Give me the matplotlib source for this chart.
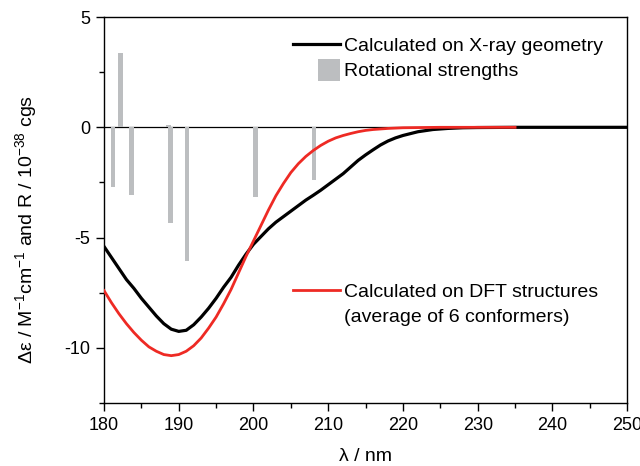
import matplotlib
matplotlib.use("Agg")
import matplotlib.pyplot as plt
from matplotlib.ticker import MultipleLocator
from matplotlib.patches import Rectangle, Patch
from matplotlib.lines import Line2D
from matplotlib.legend_handler import HandlerPatch

plt.rcParams['font.family'] = ['Liberation Sans', 'DejaVu Sans']
plt.rcParams['mathtext.default'] = 'regular'
plt.rcParams['axes.unicode_minus'] = False

# CD spectrum calculated on X-ray geometry (black)
wl_xray = [180, 181, 182, 183, 184, 185, 186, 187, 188, 189, 190, 191, 192, 193, 194,
           195, 196, 197, 198, 199, 200, 201, 202, 203, 204, 205, 206, 207, 208, 209,
           210, 211, 212, 213, 214, 215, 216, 217, 218, 219, 220, 222, 224, 226, 228,
           230, 235, 250]
de_xray = [-5.4, -5.9, -6.4, -6.9, -7.3, -7.75, -8.15, -8.55, -8.9, -9.15, -9.25, -9.2,
           -8.95, -8.6, -8.2, -7.75, -7.25, -6.8, -6.25, -5.75, -5.3, -4.95, -4.6, -4.3,
           -4.05, -3.8, -3.55, -3.3, -3.08, -2.85, -2.6, -2.35, -2.1, -1.8, -1.5, -1.25,
           -1.02, -0.8, -0.62, -0.48, -0.37, -0.2, -0.1, -0.05, -0.02, -0.01, 0.0, 0.0]

# CD spectrum calculated on DFT structures (red)
wl_dft = [180, 181, 182, 183, 184, 185, 186, 187, 188, 189, 190, 191, 192, 193, 194,
          195, 196, 197, 198, 199, 200, 201, 202, 203, 204, 205, 206, 207, 208, 209,
          210, 211, 212, 213, 214, 215, 216, 218, 220, 225, 235]
de_dft = [-7.4, -7.95, -8.45, -8.9, -9.3, -9.65, -9.95, -10.15, -10.3, -10.35, -10.3,
          -10.15, -9.9, -9.55, -9.1, -8.6, -8.0, -7.35, -6.6, -5.85, -5.15, -4.45, -3.75,
          -3.1, -2.55, -2.05, -1.65, -1.32, -1.05, -0.82, -0.63, -0.48, -0.37, -0.28,
          -0.2, -0.14, -0.1, -0.05, -0.02, 0.0, 0.0]

# rotational strengths (sticks)
wl_rot = [181.2, 182.2, 183.7, 188.6, 188.9, 191.1, 200.3, 208.1]
r_rot = [-2.7, 3.35, -3.05, 0.1, -4.35, -6.05, -3.15, -2.4]

bar_color = '#bcbec0'

fig = plt.figure(figsize=(6.4, 4.66), dpi=100)
ax = fig.add_axes([0.1625, 0.135, 0.8175, 0.8285])

ax.axhline(0, color='black', lw=0.9, zorder=1)
ax.bar(wl_rot, r_rot, width=0.6, color=bar_color, zorder=2)
line_x, = ax.plot(wl_xray, de_xray, color='black', lw=2.3, zorder=3,
                  label='Calculated on X-ray geometry')
line_d, = ax.plot(wl_dft, de_dft, color='#ee2a24', lw=2.0, zorder=3,
                  label='Calculated on DFT structures')

ax.set_xlim(180, 250)
ax.set_ylim(-12.5, 5)
ax.xaxis.set_major_locator(MultipleLocator(10))
ax.xaxis.set_minor_locator(MultipleLocator(5))
ax.yaxis.set_major_locator(MultipleLocator(5))
ax.yaxis.set_minor_locator(MultipleLocator(2.5))
ax.tick_params(which='major', direction='out', length=6, width=1, color='black',
               labelsize=13, pad=4)
ax.tick_params(which='minor', direction='out', length=3.5, width=1, color='black')
for s in ax.spines.values():
    s.set_linewidth(1)

ax.set_xlabel('λ / nm', fontsize=14, labelpad=10)
ax.set_ylabel('Δε / M$^{-1}$cm$^{-1}$ and R / 10$^{-38}$ cgs', fontsize=14)
ax.yaxis.set_label_coords(-0.125, 0.45)


# square patch, right aligned in the handle box
def square_patch(legend, orig_handle, xdescent, ydescent, width, height, fontsize):
    side = 1.6 * height
    return Rectangle((width - side - xdescent, -ydescent + (height - side) / 2),
                     side, side)


rot_proxy = Patch(facecolor=bar_color, edgecolor='none', label='Rotational strengths')

leg_kw = dict(frameon=False, fontsize=14, handlelength=2.4, handletextpad=0.25,
              borderpad=0, borderaxespad=0, labelspacing=0.4, loc='upper left')
leg1 = ax.legend(handles=[line_x, rot_proxy], bbox_to_anchor=(0.361, 0.947),
                 handler_map={Patch: HandlerPatch(patch_func=square_patch)},
                 **leg_kw)
ax.add_artist(leg1)
blank = Line2D([], [], color='none', label='(average of 6 conformers)')
ax.legend(handles=[line_d, blank], bbox_to_anchor=(0.361, 0.31), **leg_kw)

fig.savefig('out.png', dpi=100)
